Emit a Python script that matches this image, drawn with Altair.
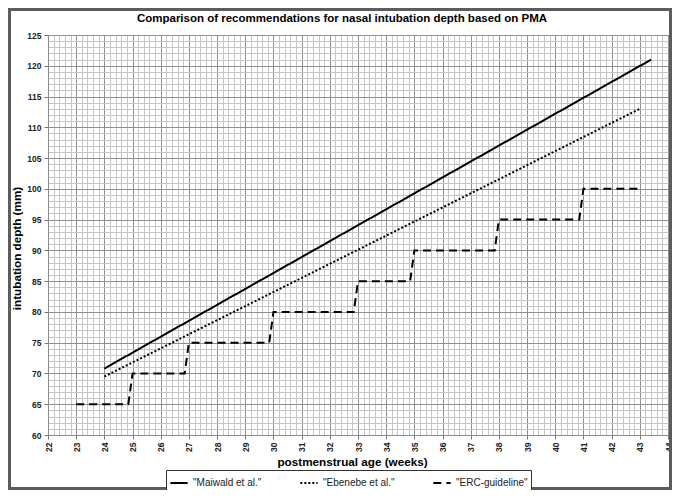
import pandas as pd
import altair as alt

# Values
weeks_maiwald = [24, 43.4]
depth_maiwald = [70.8, 121.0]

weeks_ebenebe = [24, 43]
depth_ebenebe = [69.5, 113.0]

weeks_erc = [23, 24.85, 25, 26.85, 27, 29.85, 30, 32.85, 33, 34.85, 35, 37.85, 38, 40.85, 41, 43]
depth_erc = [65, 65, 70, 70, 75, 75, 80, 80, 85, 85, 90, 90, 95, 95, 100, 100]

series_names = ['"Maiwald et al."', '"Ebenebe et al."', '"ERC-guideline"']

df = pd.concat([
    pd.DataFrame({'week': weeks_maiwald, 'depth': depth_maiwald, 'series': series_names[0]}),
    pd.DataFrame({'week': weeks_ebenebe, 'depth': depth_ebenebe, 'series': series_names[1]}),
    pd.DataFrame({'week': weeks_erc, 'depth': depth_erc, 'series': series_names[2]}),
])

# Tick positions: minor grid every 0.2 week / 1 mm, labels on the major lines
x_ticks = [round(22 + i * 0.2, 1) for i in range(111)]
y_ticks = list(range(60, 126))

font = 'Liberation Sans'
major_grid = '#8f8f8f'
minor_grid = '#c6c6c6'

x_axis = alt.Axis(
    values=x_ticks,
    title='postmenstrual age (weeks)',
    labelAngle=270,
    labelExpr="datum.value % 1 === 0 ? format(datum.value, 'd') : ''",
    labelOverlap=False,
    labelFlush=False,
    labelPadding=3,
    gridColor={'condition': {'test': 'datum.value % 1 === 0', 'value': major_grid}, 'value': minor_grid},
    tickColor={'condition': {'test': 'datum.value % 1 === 0', 'value': '#777777'}, 'value': 'transparent'},
    tickSize=4,
    titlePadding=5,
    titleX=304,
)

y_axis = alt.Axis(
    values=y_ticks,
    title='intubation depth (mm)',
    labelExpr="datum.value % 5 === 0 ? format(datum.value, 'd') : ''",
    labelOverlap=False,
    labelFlush=False,
    labelPadding=3,
    gridColor={'condition': {'test': 'datum.value % 5 === 0', 'value': major_grid}, 'value': minor_grid},
    tickColor={'condition': {'test': 'datum.value % 5 === 0', 'value': '#777777'}, 'value': 'transparent'},
    tickSize=4,
    titlePadding=4,
    titleY=213,
)

lines = alt.Chart(df).mark_line(color='black', strokeWidth=2).encode(
    x=alt.X('week:Q', scale=alt.Scale(domain=[22, 44], nice=False), axis=x_axis),
    y=alt.Y('depth:Q', scale=alt.Scale(domain=[60, 125], nice=False), axis=y_axis),
    strokeDash=alt.StrokeDash(
        'series:N',
        scale=alt.Scale(domain=series_names, range=[[1, 0], [2, 2], [8, 5]]),
        legend=alt.Legend(
            title=None,
            orient='none',
            direction='horizontal',
            legendX=118,
            legendY=435,
            symbolType='stroke',
            symbolSize=300,
            symbolStrokeWidth=2,
            symbolStrokeColor='black',
            labelFont=font,
            labelFontSize=10,
            labelColor='#222222',
            columnPadding=34,
            padding=3,
            strokeColor='#333333',
            fillColor='white',
        ),
    ),
    detail='series:N',
    order='week:Q',
)

# Grey frame round the whole figure
frame = alt.Chart(pd.DataFrame({'a': [0]})).mark_rect(
    fill=None, stroke='#5c5c5c', strokeWidth=3
).encode(
    x=alt.value(-38.5), x2=alt.value(622.5),
    y=alt.value(-25.5), y2=alt.value(453.5),
)

chart = alt.layer(lines, frame).properties(
    width=620,
    height=400,
    autosize=alt.AutoSizeParams(type='none'),
    padding={'left': 40, 'top': 27, 'right': 4, 'bottom': 55},
    title=alt.TitleParams(
        'Comparison of recommendations for nasal intubation depth based on PMA',
        font=font, fontSize=11.5, fontWeight='bold', anchor='middle',
        baseline='alphabetic', offset=-25, dx=-16,
    ),
).configure_view(
    stroke='#8a8a8a'
).configure_axis(
    labelFont=font,
    labelFontSize=8.5,
    labelFontWeight='bold',
    labelColor='#222222',
    titleFont=font,
    titleFontSize=11.7,
    titleFontWeight='bold',
    titleColor='black',
    domainColor='#8a8a8a',
    gridOpacity=1,
)

chart.save('out.html', embed_options={'renderer': 'svg', 'actions': False})
